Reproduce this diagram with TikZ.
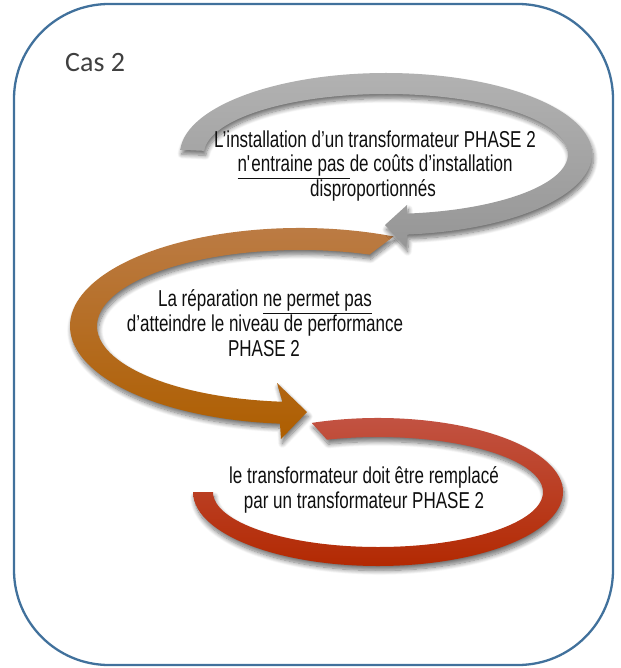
\documentclass[tikz,border=0pt]{standalone}
\usepackage{fontspec}
\setmainfont{Liberation Sans}
\newfontfamily\bodyfont{Liberation Sans}[FakeStretch=0.74]
\newfontfamily\titlefont{Carlito}
\usetikzlibrary{calc,shadows.blur}

\definecolor{framecol}{RGB}{65,113,156}
\definecolor{greytop}{RGB}{178,178,178}
\definecolor{greybot}{RGB}{150,150,150}
\definecolor{ochretop}{RGB}{188,125,72}
\definecolor{ochrebot}{RGB}{174,94,0}
\definecolor{redtop}{RGB}{195,85,70}
\definecolor{redbot}{RGB}{178,40,0}
\definecolor{inkcol}{RGB}{15,15,15}

\tikzset{
  frame/.style={draw=framecol, line width=2.3pt, rounded corners=95pt},
  band/.style={blur shadow={shadow xshift=1.5pt, shadow yshift=-4.5pt,
      shadow blur radius=4.5pt, shadow blur steps=10, shadow opacity=55}},
  txt/.style={font={\bodyfont\fontsize{23pt}{25pt}\selectfont},
      text=inkcol, anchor=base, inner sep=0pt},
  title/.style={font={\titlefont\fontsize{28pt}{32pt}\selectfont},
      text=black!75, anchor=base west, inner sep=0pt},
}

\begin{document}
\begin{tikzpicture}[x=1pt,y=1pt]
\useasboundingbox (0,0) rectangle (620,-668);

% outer frame
\draw[frame] (14,-4) rectangle (613,-665);

\node[title] (cas) at (65,-72) {Cas 2};

% centres of the three curved arrows
\coordinate (gc) at (386,-154);
\coordinate (oc) at (300,-326);
\coordinate (rc) at (378,-492);

% third arrow (red): open loop ending on the left
\path[band, top color=redtop, bottom color=redbot]
  ($(rc)+(111:185pt and 74pt)$)
    arc[start angle=111, end angle=-180, x radius=185pt, y radius=74pt]
  -- ($(rc)+(180:165pt and 55pt)$)
    arc[start angle=-180, end angle=108, x radius=165pt, y radius=55pt]
  -- cycle;

% second arrow (ochre): round the left, head pointing right
\path[band, top color=ochretop, bottom color=ochrebot]
  ($(oc)+(66:230pt and 98pt)$)
    arc[start angle=66, end angle=265, x radius=230pt, y radius=98pt]
  -- (281,-439) -- (307,-412) -- (277,-383)
  -- ($(oc)+(265:203pt and 76pt)$)
    arc[start angle=265, end angle=70, x radius=203pt, y radius=76pt]
  -- cycle;

% first arrow (grey): over the top and round the right, head pointing left
\path[band, top color=greytop, bottom color=greybot]
  ($(gc)+(177:206pt and 81pt)$)
    arc[start angle=177, end angle=-84, x radius=206pt, y radius=81pt]
  -- (406,-247) -- (385,-225) -- (407,-205)
  -- ($(gc)+(-83.4:182pt and 60pt)$)
    arc[start angle=-83.4, end angle=177, x radius=182pt, y radius=60pt]
  -- cycle;

% texts
\node[txt] (t1a) at (375,-147.3) {L’installation d’un transformateur PHASE 2};
\node[txt] (t1b) at (375,-171.7) {\underline{n\textquotesingle entraine pas }de coûts d’installation};
\node[txt] (t1c) at (373,-196.5) {disproportionnés};

\node[txt] (t2a) at (265,-306.7) {La réparation \underline{ne permet pas}};
\node[txt] (t2b) at (265,-331.7) {d’atteindre le niveau de performance};
\node[txt] (t2c) at (264,-356.7) {PHASE 2};

\node[txt] (t3a) at (364,-483) {le transformateur doit être remplacé};
\node[txt] (t3b) at (364,-508) {par un transformateur PHASE 2};
\end{tikzpicture}
\end{document}
